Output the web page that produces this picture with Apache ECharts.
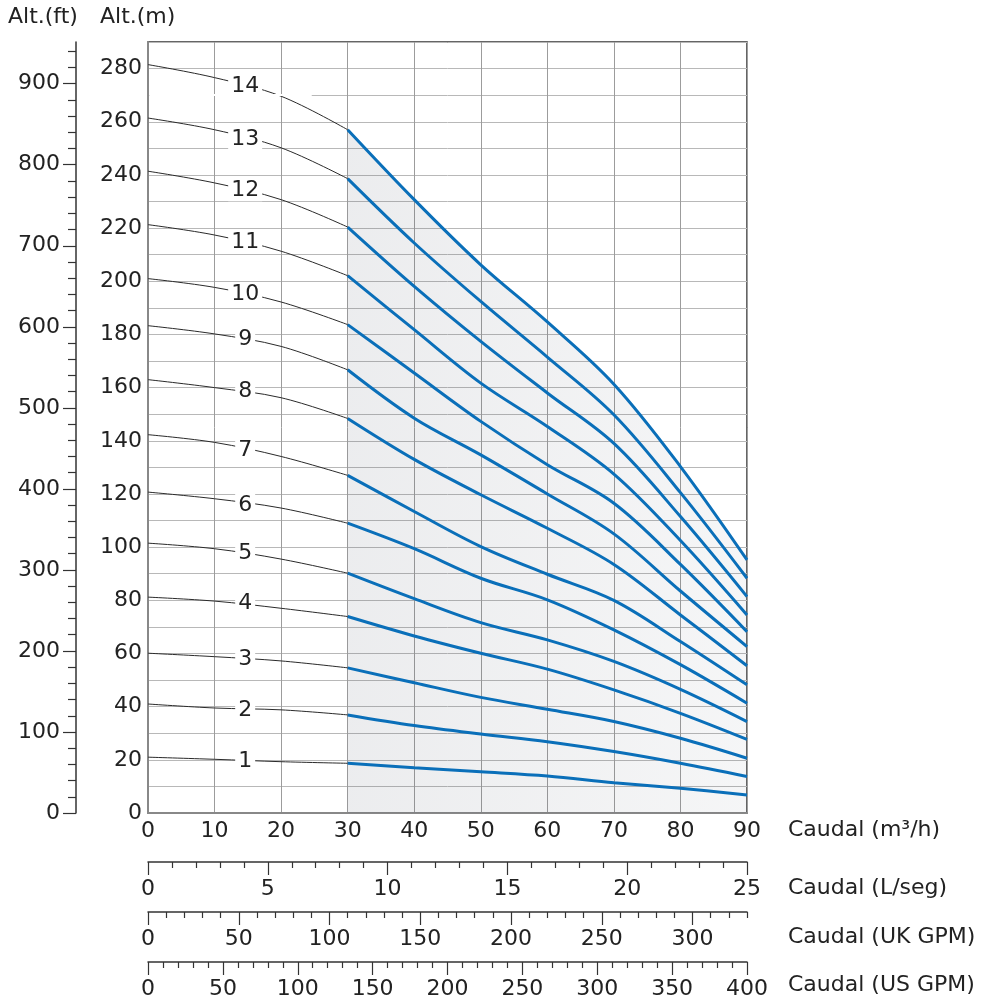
<!DOCTYPE html>
<html><head><meta charset="utf-8">
<script src="https://cdn.jsdelivr.net/npm/echarts@6/dist/echarts.min.js"></script>
<style>html,body{margin:0;padding:0;background:#fff}#c{width:988px;height:1000px}</style>
</head><body><div id="c"></div>
<script>
// ---- data ----
const stages = [14,13,12,11,10,9,8,7,6,5,4,3,2,1];
const blackX = [0,10,20,30];
const blueX = [30,40,50,60,70,80,90];
const black14 = [281.5,276.6,269.6,257.0];
const black13 = [261.4,257.0,250.2,238.6];
const black12 = [241.4,237.0,230.7,220.4];
const black11 = [221.3,217.4,211.3,202.1];
const black10 = [201.0,197.7,192.2,183.7];
const black9  = [183.3,180.2,175.5,166.7];
const black8  = [163.0,160.0,156.2,148.4];
const black7  = [142.3,139.4,134.1,127.0];
const black6  = [120.7,118.2,114.7,109.0];
const black5  = [101.5,99.4,95.5,90.2];
const black4  = [81.2,79.7,77.0,73.9];
const black3  = [60.1,58.8,57.2,54.6];
const black2  = [41.0,39.5,38.8,36.9];
const black1  = [21.0,20.2,19.3,18.7];
const blue14 = [257.0,230.7,206.2,184.7,161.3,130.3,95.2];
const blue13 = [238.6,214.4,192.4,171.5,149.8,120.5,88.3];
const blue12 = [220.4,198.1,177.4,158.0,139.0,111.5,81.4];
const blue11 = [202.1,181.8,161.7,145.4,127.5,102.5,74.5];
const blue10 = [183.7,165.5,147.3,131.0,116.5,93.5,68.2];
const blue9  = [166.7,148.5,134.7,120.0,105.0,83.5,62.6];
const blue8  = [148.4,133.0,119.7,107.1,93.5,74.5,55.4];
const blue7  = [127.0,113.4,100.2,89.8,80.0,64.5,48.2];
const blue6  = [109.0,99.4,88.3,80.2,68.9,55.8,41.3];
const blue5  = [90.2,80.6,71.6,65.1,57.0,46.5,34.4];
const blue4  = [73.9,66.6,60.1,54.1,46.3,37.5,27.7];
const blue3  = [54.6,49.0,43.5,39.0,34.4,28.1,20.6];
const blue2  = [36.9,32.9,29.7,26.8,23.1,18.7,13.7];
const blue1  = [18.7,17.0,15.5,13.9,11.4,9.3,6.8];
const labelX = 14.6;
const labelY = [273.2,253.3,234.2,214.6,195.0,178.0,158.6,136.6,115.9,97.7,78.9,57.8,38.8,19.3];
const mTicks = [0,20,40,60,80,100,120,140,160,180,200,220,240,260,280];
const ftMajor = [0,100,200,300,400,500,600,700,800,900];
const ftMinor = [20,40,60,80,120,140,160,180,220,240,260,280,320,340,360,380,420,440,460,480,520,540,560,580,620,640,660,680,720,740,760,780,820,840,860,880,920,940];
const lsMajor = [0,5,10,15,20,25];
const lsMinor = [1,2,3,4,6,7,8,9,11,12,13,14,16,17,18,19,21,22,23,24];
const ukMajor = [0,50,100,150,200,250,300];
const ukMinor = [10,20,30,40,60,70,80,90,110,120,130,140,160,170,180,190,210,220,230,240,260,270,280,290,310,320,330];
const usMajor = [0,50,100,150,200,250,300,350,400];
const usMinor = [10,20,30,40,60,70,80,90,110,120,130,140,160,170,180,190,210,220,230,240,260,270,280,290,310,320,330,340,360,370,380,390];
const axisTitles = ['Caudal (m³/h)','Caudal (L/seg)','Caudal (UK GPM)','Caudal (US GPM)'];

const blacks = [black14,black13,black12,black11,black10,black9,black8,black7,black6,black5,black4,black3,black2,black1];
const blues = [blue14,blue13,blue12,blue11,blue10,blue9,blue8,blue7,blue6,blue5,blue4,blue3,blue2,blue1];

// ---- chart ----
const FONT = 'DejaVu Sans';
const TXT = '#222';
const FS = 22;
const M_MAX = 290;
const FT_MAX = M_MAX * 3.28084;
const chart = echarts.init(document.getElementById('c'), null, {renderer:'canvas'});

function bottomAxis(min,max,major,minor,offset){
  const base = {type:'value', gridIndex:0, position:'bottom', offset:offset, min:min, max:max,
    axisLine:{show:true, onZero:false, lineStyle:{color:'#333', width:1.5}}, splitLine:{show:false}};
  return [
    Object.assign({}, base, {
      axisTick:{show:true, inside:false, length:13, customValues:major, lineStyle:{color:'#333', width:1.2}},
      axisLabel:{show:true, customValues:major, margin:16, fontFamily:FONT, fontSize:FS, color:TXT}
    }),
    Object.assign({}, base, {
      axisLine:{show:false, onZero:false},
      axisTick:{show:true, inside:false, length:6, customValues:minor, lineStyle:{color:'#333', width:1.2}},
      axisLabel:{show:false}
    })
  ];
}

const series = [];
stages.forEach((s,i)=>{
  const blueSeries = {
    type:'line', name:'b'+s, xAxisIndex:0, yAxisIndex:0, z:3,
    data: blueX.map((x,k)=>[x, blues[i][k]]),
    smooth:0.35, symbol:'none',
    lineStyle:{color:'#0a6fb9', width:3}
  };
  if (s === 14) {
    blueSeries.areaStyle = {origin:'start', color:{type:'linear', x:0, y:0, x2:1, y2:0,
      colorStops:[{offset:0, color:'rgba(70,78,95,0.15)'},{offset:1, color:'rgba(70,78,95,0.075)'}]}};
  }
  series.push(blueSeries);
  series.push({
    type:'line', name:'k'+s, xAxisIndex:0, yAxisIndex:0, z:3,
    data: blackX.map((x,k)=>[x, blacks[i][k]]),
    smooth:0.35, symbol:'none',
    lineStyle:{color:'#2a2a2a', width:1}
  });
});
// white cover for the partial 270 grid line (as in the reference)
series.push({type:'line', xAxisIndex:0, yAxisIndex:0, z:1, data:[], silent:true,
  markLine:{silent:true, symbol:'none', label:{show:false}, animation:false,
    lineStyle:{color:'#fff', width:2, type:'solid'},
    data:[[{coord:[0.2,270]},{coord:[24.6,270]}]]}});
// stage labels
series.push({type:'scatter', xAxisIndex:0, yAxisIndex:0, z:6, symbolSize:0, silent:true,
  itemStyle:{opacity:1},
  data: stages.map((s,i)=>({value:[labelX, labelY[i]], name:String(s)})),
  label:{show:true, position:'inside', opacity:1, formatter:p=>p.name, fontFamily:FONT, fontSize:FS, color:TXT,
    backgroundColor:'#ffffff', padding:[0,3,0,3], lineHeight:22}
});

const xAxes = [{
  type:'value', gridIndex:0, position:'bottom', min:0, max:90, interval:10,
  axisLine:{show:true, onZero:false, lineStyle:{color:'#888', width:2}},
  axisTick:{show:false},
  axisLabel:{show:true, margin:7, fontFamily:FONT, fontSize:FS, color:TXT},
  splitLine:{show:true, lineStyle:{color:'#9c9c9c', width:1}}
}].concat(bottomAxis(0,25,lsMajor,lsMinor,49))
  .concat(bottomAxis(0,330,ukMajor,ukMinor,99))
  .concat(bottomAxis(0,400,usMajor,usMinor,149));

const yAxes = [{
  type:'value', gridIndex:0, position:'left', min:0, max:M_MAX, interval:10,
  axisLine:{show:true, onZero:false, lineStyle:{color:'#888', width:2}},
  axisTick:{show:false},
  axisLabel:{show:true, customValues:mTicks, margin:6, fontFamily:FONT, fontSize:FS, color:TXT},
  splitLine:{show:true, lineStyle:{color:'#b8b8b8', width:1}}
},{
  type:'value', gridIndex:0, position:'left', offset:72, min:0, max:FT_MAX,
  axisLine:{show:true, onZero:false, lineStyle:{color:'#333', width:1.5}},
  axisTick:{show:true, inside:false, length:13, customValues:ftMajor, lineStyle:{color:'#333', width:1.2}},
  axisLabel:{show:true, customValues:ftMajor, margin:16, fontFamily:FONT, fontSize:FS, color:TXT},
  splitLine:{show:false}
},{
  type:'value', gridIndex:0, position:'left', offset:72, min:0, max:FT_MAX,
  axisLine:{show:false, onZero:false},
  axisTick:{show:true, inside:false, length:8, customValues:ftMinor, lineStyle:{color:'#333', width:1.2}},
  axisLabel:{show:false},
  splitLine:{show:false}
}];

const titleY = [830, 888, 937, 985];
const graphics = [
  {type:'text', style:{x:8, y:17, text:'Alt.(ft)', font:FS+'px '+FONT, fill:TXT, verticalAlign:'middle'}},
  {type:'text', style:{x:100, y:17, text:'Alt.(m)', font:FS+'px '+FONT, fill:TXT, verticalAlign:'middle'}}
].concat(axisTitles.map((t,i)=>({type:'text', style:{x:788, y:titleY[i], text:t, font:FS+'px '+FONT, fill:TXT, verticalAlign:'middle'}})));

chart.setOption({
  animation:false,
  backgroundColor:'#fff',
  grid:[{left:148, top:42, width:599, height:771, show:true, borderColor:'#333', borderWidth:1.5, backgroundColor:'transparent'}],
  xAxis:xAxes,
  yAxis:yAxes,
  series:series,
  graphic:graphics
});
</script>
</body></html>
